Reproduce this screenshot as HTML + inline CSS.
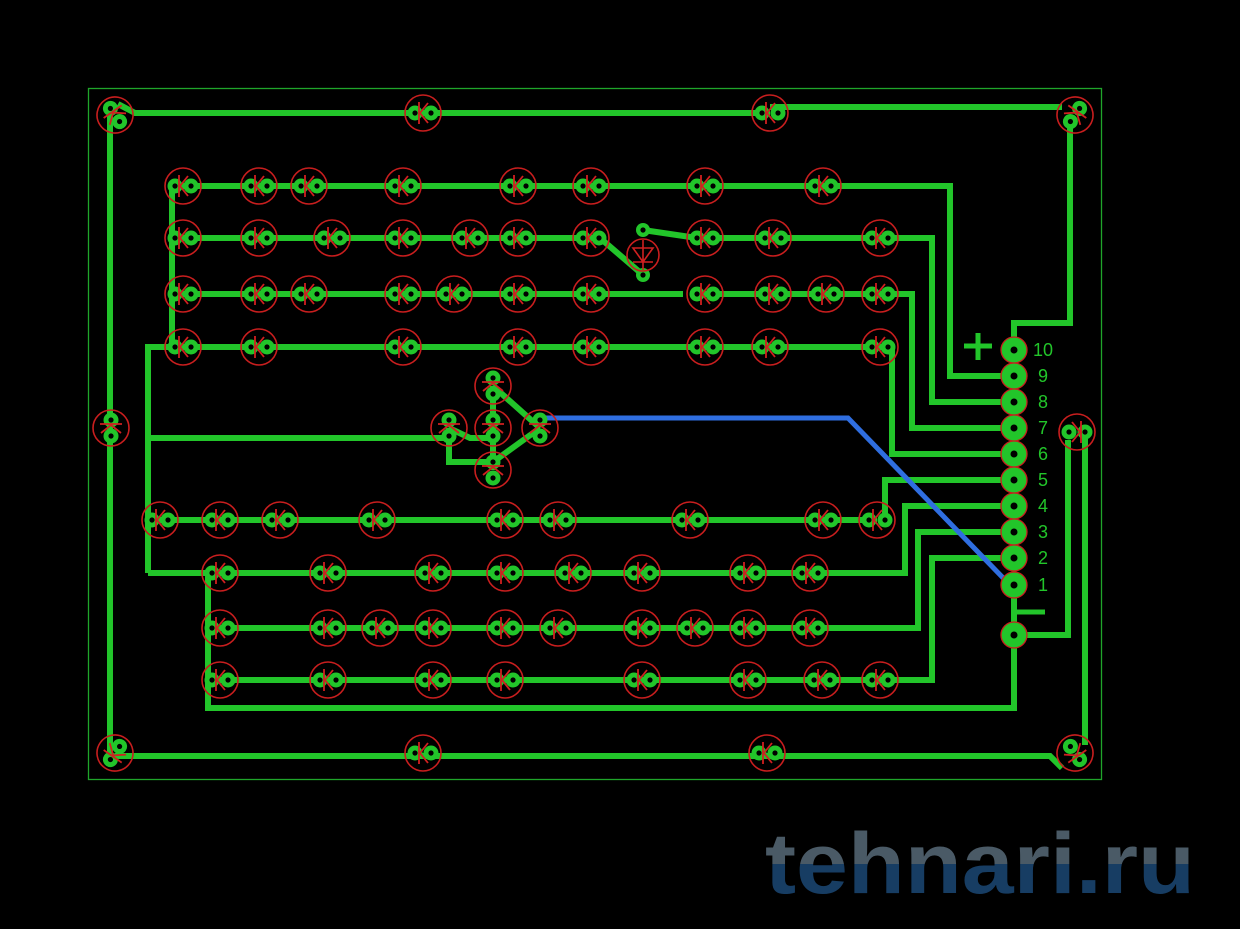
<!DOCTYPE html>
<html><head><style>body{margin:0;background:#000}svg{display:block}</style></head><body>
<svg width="1240" height="929" viewBox="0 0 1240 929" xmlns="http://www.w3.org/2000/svg">
<defs>
<g id="L">
<circle r="18" fill="none" stroke="#c81e1e" stroke-width="1.6"/>
<circle cx="-8" r="7.5" fill="#22c52a"/><circle cx="8" r="7.5" fill="#22c52a"/>
<circle cx="-8" r="2.6" fill="#000"/><circle cx="8" r="2.6" fill="#000"/>
<path d="M-4,-11V11M5,-10L-3,0L5,10" fill="none" stroke="#d02020" stroke-width="1.8"/>
</g>
<linearGradient id="wm" x1="0" y1="0" x2="0" y2="1"><stop offset="0.5" stop-color="#4a5a66"/><stop offset="0.5" stop-color="#173d63"/></linearGradient>
</defs>
<rect x="88.5" y="88.5" width="1013" height="691" fill="none" stroke="#1fa52a" stroke-width="1.3"/>
<g fill="none" stroke="#22c52a" stroke-width="6" stroke-linejoin="miter">
<path d="M118,104L135,113H770"/>
<path d="M770,107H1062"/>
<path d="M1070,115V323H1014V350"/>
<path d="M110,115V753"/>
<path d="M115,756H1050L1062,768"/>
<path d="M1085,432V745"/>
<path d="M1068,440V635H1014"/>
<path d="M172,186V347"/>
<path d="M170,186H950V376H1014"/>
<path d="M170,238H600L643,275M643,230L697,238H932V402H1014"/>
<path d="M170,294H683M697,294H912V428H1014"/>
<path d="M148,573V347H880M880,347H892V454H1014"/>
<path d="M148,438H449"/>
<path d="M449,428V462H493L540,428M449,428L470,438H493M493,386V470M493,386L540,428"/>
<path d="M148,520H877M885,520V480H1014"/>
<path d="M148,573H905V506H1014"/>
<path d="M208,628H918V532H1014"/>
<path d="M208,680H932V558H1014"/>
<path d="M208,573V708H1014V635"/>
<path d="M1014,635V585"/>
</g>
<path d="M540,418H848L1010,585" fill="none" stroke="#2f6ee0" stroke-width="5"/>
<g>
<g fill="#22c52a" stroke="#c81e1e" stroke-width="1.3">
<circle cx="1014" cy="350" r="13"/><circle cx="1014" cy="376" r="13"/><circle cx="1014" cy="402" r="13"/><circle cx="1014" cy="428" r="13"/><circle cx="1014" cy="454" r="13"/><circle cx="1014" cy="480" r="13"/><circle cx="1014" cy="506" r="13"/><circle cx="1014" cy="532" r="13"/><circle cx="1014" cy="558" r="13"/><circle cx="1014" cy="585" r="13"/><circle cx="1014" cy="635" r="13"/>
</g>
<g fill="#000">
<circle cx="1014" cy="350" r="3.5"/><circle cx="1014" cy="376" r="3.5"/><circle cx="1014" cy="402" r="3.5"/><circle cx="1014" cy="428" r="3.5"/><circle cx="1014" cy="454" r="3.5"/><circle cx="1014" cy="480" r="3.5"/><circle cx="1014" cy="506" r="3.5"/><circle cx="1014" cy="532" r="3.5"/><circle cx="1014" cy="558" r="3.5"/><circle cx="1014" cy="585" r="3.5"/><circle cx="1014" cy="635" r="3.5"/>
</g>
<g fill="#22c52a" font-family="Liberation Sans, sans-serif" font-size="18">
<text x="1033" y="356">10</text><text x="1038" y="382">9</text><text x="1038" y="408">8</text><text x="1038" y="434">7</text><text x="1038" y="460">6</text><text x="1038" y="486">5</text><text x="1038" y="512">4</text><text x="1038" y="538">3</text><text x="1038" y="564">2</text><text x="1038" y="591">1</text>
</g>
<path d="M964,346H992M978,333V360M1016,612H1045" stroke="#22c52a" stroke-width="5"/>
</g>
<circle cx="643" cy="230" r="7" fill="#22c52a"/><circle cx="643" cy="230" r="2.6" fill="#000"/>
<circle cx="643" cy="275" r="7" fill="#22c52a"/><circle cx="643" cy="275" r="2.6" fill="#000"/>
<circle cx="643" cy="255" r="16" fill="none" stroke="#c81e1e" stroke-width="1.6"/>
<path d="M633,248H653L643,262ZM633,262H653M643,240V270" fill="none" stroke="#d02020" stroke-width="1.6"/>
<g>
<use href="#L" transform="translate(115,115) rotate(55)"/>
<use href="#L" transform="translate(1075,115) rotate(125)"/>
<use href="#L" transform="translate(115,753) rotate(-55)"/>
<use href="#L" transform="translate(1075,753) rotate(-125)"/>
<use href="#L" x="423" y="113"/><use href="#L" x="770" y="113"/>
<use href="#L" x="423" y="753"/><use href="#L" x="767" y="753"/>
<use href="#L" transform="translate(111,428) rotate(90)"/>
<use href="#L" transform="translate(1077,432) rotate(180)"/>
<use href="#L" transform="translate(449,428) rotate(90)"/>
<use href="#L" transform="translate(493,386) rotate(90)"/>
<use href="#L" transform="translate(493,428) rotate(90)"/>
<use href="#L" transform="translate(493,470) rotate(90)"/>
<use href="#L" transform="translate(540,428) rotate(90)"/>
<use href="#L" x="183" y="186"/><use href="#L" x="259" y="186"/><use href="#L" x="309" y="186"/><use href="#L" x="403" y="186"/><use href="#L" x="518" y="186"/><use href="#L" x="591" y="186"/><use href="#L" x="705" y="186"/><use href="#L" x="823" y="186"/>
<use href="#L" x="183" y="238"/><use href="#L" x="259" y="238"/><use href="#L" x="332" y="238"/><use href="#L" x="403" y="238"/><use href="#L" x="470" y="238"/><use href="#L" x="518" y="238"/><use href="#L" x="591" y="238"/><use href="#L" x="705" y="238"/><use href="#L" x="773" y="238"/><use href="#L" x="880" y="238"/>
<use href="#L" x="183" y="294"/><use href="#L" x="259" y="294"/><use href="#L" x="309" y="294"/><use href="#L" x="403" y="294"/><use href="#L" x="454" y="294"/><use href="#L" x="518" y="294"/><use href="#L" x="591" y="294"/><use href="#L" x="705" y="294"/><use href="#L" x="773" y="294"/><use href="#L" x="826" y="294"/><use href="#L" x="880" y="294"/>
<use href="#L" x="183" y="347"/><use href="#L" x="259" y="347"/><use href="#L" x="403" y="347"/><use href="#L" x="518" y="347"/><use href="#L" x="591" y="347"/><use href="#L" x="705" y="347"/><use href="#L" x="770" y="347"/><use href="#L" x="880" y="347"/>
<use href="#L" x="160" y="520"/><use href="#L" x="220" y="520"/><use href="#L" x="280" y="520"/><use href="#L" x="377" y="520"/><use href="#L" x="505" y="520"/><use href="#L" x="558" y="520"/><use href="#L" x="690" y="520"/><use href="#L" x="823" y="520"/><use href="#L" x="877" y="520"/>
<use href="#L" x="220" y="573"/><use href="#L" x="328" y="573"/><use href="#L" x="433" y="573"/><use href="#L" x="505" y="573"/><use href="#L" x="573" y="573"/><use href="#L" x="642" y="573"/><use href="#L" x="748" y="573"/><use href="#L" x="810" y="573"/>
<use href="#L" x="220" y="628"/><use href="#L" x="328" y="628"/><use href="#L" x="380" y="628"/><use href="#L" x="433" y="628"/><use href="#L" x="505" y="628"/><use href="#L" x="558" y="628"/><use href="#L" x="642" y="628"/><use href="#L" x="695" y="628"/><use href="#L" x="748" y="628"/><use href="#L" x="810" y="628"/>
<use href="#L" x="220" y="680"/><use href="#L" x="328" y="680"/><use href="#L" x="433" y="680"/><use href="#L" x="505" y="680"/><use href="#L" x="642" y="680"/><use href="#L" x="748" y="680"/><use href="#L" x="822" y="680"/><use href="#L" x="880" y="680"/>
</g>
<text x="765" y="893" font-family="Liberation Sans, sans-serif" font-weight="bold" font-size="86" fill="url(#wm)" textLength="430" lengthAdjust="spacingAndGlyphs">tehnari.ru</text>
</svg>
</body></html>
